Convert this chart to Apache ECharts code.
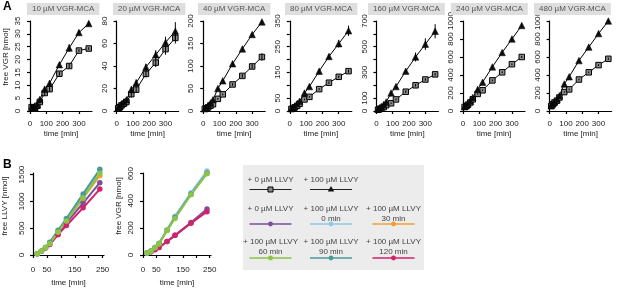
<!DOCTYPE html>
<html><head><meta charset="utf-8">
<script src="https://cdn.jsdelivr.net/npm/echarts@6/dist/echarts.min.js"></script>
<style>html,body{margin:0;padding:0;background:#fff}#c{width:617px;height:288px}</style>
</head><body><div id="c"></div>
<script>
// ---------- DATA ----------
const timesA = [10, 20, 30, 45, 60, 90, 120, 180, 240, 300, 360];
const titlesA = ['10 µM VGR-MCA', '20 µM VGR-MCA', '40 µM VGR-MCA', '80 µM VGR-MCA', '160 µM VGR-MCA', '240 µM VGR-MCA', '480 µM VGR-MCA'];
// squares: + 0 µM LLVY ; triangles: + 100 µM LLVY
const sq10  = [1.5, 1.2, 1.0, 2.0, 3.5, 7.0, 8.5, 14.5, 17.5, 23.5, 24.3];
const tri10 = [1.5, 1.5, 1.5, 2.5, 4.5, 8.5, 10.8, 18, 24.5, 30.5, 34];
const sq20  = [2.5, 3.5, 5, 6.5, 8, 15, 19, 33, 43, 55, 65];
const tri20 = [3, 4, 6, 8, 10, 19, 25, 39, 50, 61, 71];
const sq40  = [5, 6, 8, 12, 15, 27, 37, 59, 78, 99, 120];
const tri40 = [5, 8, 12, 18, 25, 50, 67, 105, 138, 170, 198];
const sq80  = [8, 10, 14, 20, 28, 45, 55, 85, 110, 133, 155];
const tri80 = [10, 14, 18, 28, 38, 70, 95, 155, 212, 262, 312];
const sq160  = [10, 15, 20, 30, 45, 60, 90, 150, 200, 245, 285];
const tri160 = [15, 25, 35, 50, 70, 140, 190, 310, 420, 520, 620];
const sq240  = [45, 55, 70, 95, 130, 190, 230, 340, 430, 520, 600];
const tri240 = [50, 60, 80, 110, 150, 240, 320, 490, 650, 800, 950];
const sq480  = [55, 75, 95, 115, 150, 210, 240, 350, 430, 510, 580];
const tri480 = [60, 80, 100, 130, 170, 300, 380, 560, 710, 860, 1000];
// error bars (± SD)
const errSq10  = [0.5, 0.5, 0.5, 0.5, 0.6, 1, 1, 0.8, 1, 0.5, 0.5];
const errTri10 = [0.5, 0.5, 0.5, 0.5, 0.6, 1, 1, 0.8, 1.5, 1, 0.8];
const errSq20  = [0.5, 0.5, 1, 1, 1, 3, 3, 3, 4, 5, 5];
const errTri20 = [0.5, 0.5, 1, 1, 1, 3, 3, 3, 4, 5, 8];
const errSq40  = [1, 1, 1, 1, 2, 2, 2, 3, 4, 5, 8];
const errTri40 = [1, 1, 1, 1, 2, 2, 2, 3, 3, 3, 3];
const errSq80  = [2, 2, 2, 2, 3, 3, 3, 4, 5, 5, 6];
const errTri80 = [2, 2, 2, 3, 4, 5, 6, 8, 10, 15, 20];
const errSq160  = [3, 3, 3, 4, 5, 6, 8, 10, 10, 10, 10];
const errTri160 = [3, 3, 4, 5, 8, 10, 10, 15, 35, 45, 55];
const errSq240  = [5, 5, 5, 5, 6, 8, 8, 10, 10, 10, 12];
const errTri240 = [5, 5, 5, 5, 6, 8, 8, 10, 10, 10, 12];
const errSq480  = [5, 5, 5, 5, 6, 8, 8, 10, 10, 10, 12];
const errTri480 = [5, 5, 5, 5, 6, 8, 8, 10, 10, 10, 12];
const yMaxA = [35, 80, 200, 350, 700, 1000, 1000];
const yLabelsA = [[0,5,10,15,20,25,30,35],[0,20,40,60,80],[0,50,100,150,200],[0,50,150,250,350],[0,100,300,500,700],[0,200,400,600,800,1000],[0,200,400,600,800,1000]];
const yTicksA = [[0,5,10,15,20,25,30,35],[0,20,40,60,80],[0,50,100,150,200],[0,50,100,150,200,250,300,350],[0,100,200,300,400,500,600,700],[0,200,400,600,800,1000],[0,200,400,600,800,1000]];
const xTicksA = [0, 100, 200, 300];

const timesB = [15, 30, 45, 60, 90, 120, 180, 240];
const namesB = ['+ 0 µM LLVY', '+ 100 µM LLVY 0 min', '+ 100 µM LLVY 30 min', '+ 100 µM LLVY 60 min', '+ 100 µM LLVY 90 min', '+ 100 µM LLVY 120 min'];
const colorsB = ['#7b4f9d', '#8ec8ea', '#eea235', '#8dc443', '#4a9a98', '#d2226c'];
// free LLVY
const llvy0   = [25, 70, 135, 200, 390, 600, 970, 1350];
const llvy0m  = [25, 72, 140, 220, 440, 650, 1090, 1550];
const llvy30m = [25, 70, 138, 215, 430, 640, 1060, 1480];
const llvy60m = [25, 70, 138, 215, 430, 635, 1070, 1520];
const llvy90m = [25, 72, 142, 240, 460, 680, 1140, 1600];
const llvy120m= [25, 68, 130, 195, 380, 550, 880, 1230];
// free VGR
const vgr0   = [15, 25, 40, 55, 100, 145, 240, 340];
const vgr0m  = [15, 32, 55, 85, 185, 285, 460, 620];
const vgr30m = [15, 30, 55, 82, 182, 280, 450, 605];
const vgr60m = [14, 30, 55, 85, 180, 270, 445, 600];
const vgr90m = [15, 30, 55, 84, 182, 278, 450, 605];
const vgr120m= [14, 24, 38, 55, 100, 145, 235, 320];

// ---------- BUILD ----------
const FONT = '"Liberation Sans", Arial, sans-serif';
const TXT = '#222';
const sqA = [sq10, sq20, sq40, sq80, sq160, sq240, sq480];
const triA = [tri10, tri20, tri40, tri80, tri160, tri240, tri480];
const eSqA = [errSq10, errSq20, errSq40, errSq80, errSq160, errSq240, errSq480];
const eTriA = [errTri10, errTri20, errTri40, errTri80, errTri160, errTri240, errTri480];
const llvyB = [llvy0, llvy0m, llvy30m, llvy60m, llvy90m, llvy120m];
const vgrB = [vgr0, vgr0m, vgr30m, vgr60m, vgr90m, vgr120m];

const grid = [], xAxis = [], yAxis = [], series = [], title = [];
const axLine = {show: true, lineStyle: {color: '#000', width: 1.2}};
const plain = (v) => String(v);
function xAx(gi, max, ticks, labels, off, margin, gap) {
  return {gridIndex: gi, type: 'value', min: 0, max: max, offset: off,
    axisLine: axLine, splitLine: {show: false},
    axisTick: {show: true, length: 3, customValues: ticks, lineStyle: {color: '#000', width: 1.2}},
    axisLabel: {customValues: labels, formatter: plain, fontSize: 8, margin: margin, color: TXT, fontFamily: FONT},
    name: 'time [min]', nameLocation: 'middle', nameGap: gap,
    nameTextStyle: {fontSize: 8, color: TXT, fontFamily: FONT}};
}
function yAx(gi, max, ticks, labels, off, name, gap, shift) {
  const o = {gridIndex: gi, type: 'value', min: 0, max: max, offset: off,
    axisLine: axLine, splitLine: {show: false},
    axisTick: {show: true, length: 3, customValues: ticks, lineStyle: {color: '#000', width: 1.2}},
    axisLabel: {customValues: labels, formatter: plain, fontSize: 8, margin: 4, rotate: 90, color: TXT, fontFamily: FONT}};
  if (name) {
    o.name = name; o.nameLocation = 'middle'; o.nameGap = gap;
    o.nameTextStyle = {fontSize: 8, color: TXT, fontFamily: FONT, padding: [0, 0, 0, shift]};
  }
  return o;
}
const titleLeft = [27, 113, 198, 285, 368, 451, 534];
for (let i = 0; i < 7; i++) {
  const ax = 26 + i * 86.6;
  grid.push({left: ax + 4, top: 21, width: 62, height: 90});
  xAxis.push(xAx(i, 380, xTicksA, xTicksA, 3, 6, 16));
  yAxis.push(yAx(i, yMaxA[i], yTicksA[i], yLabelsA[i], 4, i === 0 ? 'free VGR [nmol]' : null, 16, 18));
  title.push({text: titlesA[i], left: titleLeft[i], top: 3, padding: [2, 5, 2, 5],
    backgroundColor: '#dedede', textStyle: {fontSize: 8, fontWeight: 'normal', color: '#555', fontFamily: FONT}});
  const mk = (vals) => timesA.map((t, k) => [t, vals[k]]);
  series.push({type: 'line', name: '+ 0 µM LLVY', xAxisIndex: i, yAxisIndex: i, data: mk(sqA[i]),
    symbol: 'rect', symbolSize: 5.5, lineStyle: {color: '#000', width: 1},
    itemStyle: {color: '#8a8a8a', borderColor: '#000', borderWidth: 1}, z: 3});
  series.push({type: 'line', name: '+ 100 µM LLVY', xAxisIndex: i, yAxisIndex: i, data: mk(triA[i]),
    symbol: 'triangle', symbolSize: 6.5, lineStyle: {color: '#000', width: 1},
    itemStyle: {color: '#111', borderColor: '#000', borderWidth: 0.5}, z: 3});
  [[sqA[i], eSqA[i]], [triA[i], eTriA[i]]].forEach(([v, e]) => {
    series.push({type: 'custom', xAxisIndex: i, yAxisIndex: i, z: 4, silent: true,
      data: timesA.map((t, k) => [t, v[k] - e[k], v[k] + e[k]]),
      renderItem: (params, api) => {
        const a = api.coord([api.value(0), api.value(1)]);
        const b = api.coord([api.value(0), api.value(2)]);
        return {type: 'line', shape: {x1: a[0], y1: a[1], x2: b[0], y2: b[1]}, style: {stroke: '#000', lineWidth: 1}};
      }});
  });
}
// B panels
grid.push({left: 33, top: 173, width: 71, height: 84});
xAxis.push(xAx(7, 255, [0,50,100,150,200,250], [0,50,150,250], 4, 7, 20));
yAxis.push(yAx(7, 1530, [0,500,1000,1500], [0,500,1000,1500], 3, 'free LLVY [nmol]', 21, 16));
grid.push({left: 143, top: 173, width: 68, height: 84});
xAxis.push(xAx(8, 255, [0,50,100,150,200,250], [0,50,150,250], 4, 7, 20));
yAxis.push(yAx(8, 605, [0,200,400,600], [0,200,400,600], 4, 'free VGR [nmol]', 16, 16));
const order = [0, 5, 2, 1, 4, 3];
[[7, llvyB], [8, vgrB]].forEach(([gi, arrs]) => {
  order.forEach((j) => {
    series.push({type: 'line', name: namesB[j], xAxisIndex: gi, yAxisIndex: gi,
      data: timesB.map((t, k) => [t, arrs[j][k]]), clip: false,
      symbol: 'circle', symbolSize: 5.5, lineStyle: {color: colorsB[j], width: 2},
      itemStyle: {color: colorsB[j]}, z: 3});
  });
});

// legend (graphic)
const g = [];
g.push({type: 'text', left: 3, top: 1, style: {text: 'A', font: 'bold 12px ' + FONT, fill: '#000'}});
g.push({type: 'text', left: 3, top: 159, style: {text: 'B', font: 'bold 12px ' + FONT, fill: '#000'}});
g.push({type: 'rect', shape: {x: 243, y: 165, width: 181, height: 105}, style: {fill: '#ececec'}, z: 0});
const colX = [270.5, 331, 393.5];
function legItem(cx, ty, lines, ly, color, sym) {
  lines.forEach((s, k) => g.push({type: 'text', x: cx, y: ty + k * 9.5,
    style: {text: s, font: '8px ' + FONT, fill: '#444', align: 'center', verticalAlign: 'middle'}, z: 5}));
  g.push({type: 'line', shape: {x1: cx - 21, y1: ly, x2: cx + 21, y2: ly}, style: {stroke: color, lineWidth: sym === 'dot' ? 1.5 : 1.2}, z: 5});
  if (sym === 'sq') g.push({type: 'rect', shape: {x: cx - 2.5, y: ly - 2.5, width: 5, height: 5}, style: {fill: '#8a8a8a', stroke: '#000', lineWidth: 1}, z: 6});
  else if (sym === 'tri') g.push({type: 'polygon', shape: {points: [[cx, ly - 3.5], [cx + 3.2, ly + 2], [cx - 3.2, ly + 2]]}, style: {fill: '#111'}, z: 6});
  else g.push({type: 'circle', shape: {cx: cx, cy: ly, r: 2.4}, style: {fill: color}, z: 6});
}
legItem(colX[0], 180, ['+ 0 µM LLVY'], 189.5, '#222', 'sq');
legItem(colX[1], 180, ['+ 100 µM LLVY'], 189.5, '#222', 'tri');
legItem(colX[0], 209, ['+ 0 µM LLVY'], 224, colorsB[0], 'dot');
legItem(colX[1], 209, ['+ 100 µM LLVY', '0 min'], 224, colorsB[1], 'dot');
legItem(colX[2], 209, ['+ 100 µM LLVY', '30 min'], 224, colorsB[2], 'dot');
legItem(colX[0], 242, ['+ 100 µM LLVY', '60 min'], 258, colorsB[3], 'dot');
legItem(colX[1], 242, ['+ 100 µM LLVY', '90 min'], 258, colorsB[4], 'dot');
legItem(colX[2], 242, ['+ 100 µM LLVY', '120 min'], 258, colorsB[5], 'dot');

const chart = echarts.init(document.getElementById('c'), null, {renderer: 'canvas'});
chart.setOption({animation: false, backgroundColor: '#fff', title, grid, xAxis, yAxis, series, graphic: g});
</script></body></html>
